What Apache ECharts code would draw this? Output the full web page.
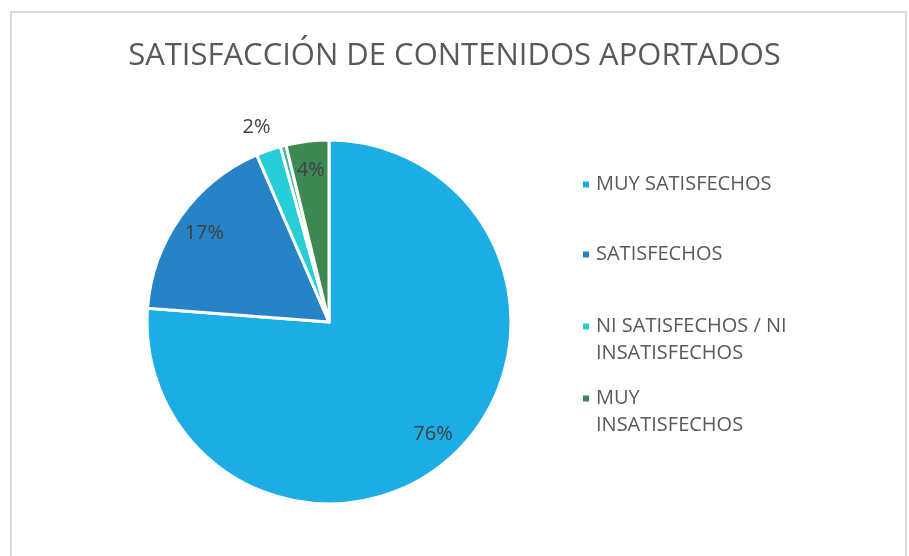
<!DOCTYPE html>
<html>
<head>
<meta charset="utf-8">
<script src="https://cdn.jsdelivr.net/npm/echarts@6/dist/echarts.min.js"></script>
<style>
  html, body { margin: 0; padding: 0; background: #fff; }
  #frame { position: absolute; left: 10px; top: 11px; width: 893px; height: 600px; border: 2px solid #d9d9d9; }
  #main { position: absolute; left: 0; top: 0; width: 909px; height: 556px; }
</style>
</head>
<body>
<div id="frame"></div>
<div id="main"></div>
<script>
var chart = echarts.init(document.getElementById('main'));

// datos
var categories = ['MUY SATISFECHOS', 'SATISFECHOS', 'NI SATISFECHOS / NI INSATISFECHOS', 'INSATISFECHOS', 'MUY INSATISFECHOS'];
var values = [76.2, 17.3, 2.2, 0.5, 3.8];
var colors = ['#1CADE4', '#2683C6', '#27CED7', '#42BA97', '#3E8853'];
var legendNames = ['MUY SATISFECHOS', 'SATISFECHOS', 'NI SATISFECHOS / NI INSATISFECHOS', 'MUY INSATISFECHOS'];
var legendTops = [166, 236, 281, 353];

var font = 'Open Sans';
var center = [329, 322];

var pieData = categories.map(function (c, i) {
  return { name: c, value: values[i], itemStyle: { color: colors[i] } };
});

// capa transparente solo para las etiquetas (posicion tipo Excel)
var labelData = categories.map(function (c, i) {
  var item = { name: c, value: values[i] };
  if (i === 2) {
    item.label = { position: 'outside', distanceToLabelLine: -10 };
    item.labelLine = { show: false, length: 24, length2: 0 };
  }
  if (i === 3) {
    item.label = { show: false };
  }
  return item;
});

var legends = legendNames.map(function (n, i) {
  return {
    orient: 'vertical',
    left: 576,
    top: legendTops[i],
    icon: 'rect',
    itemWidth: 8,
    itemHeight: 8,
    selectedMode: false,
    data: [n],
    formatter: function (name) {
      // linea vacia arriba para que el icono quede junto a la primera linea
      if (name === 'NI SATISFECHOS / NI INSATISFECHOS') return ' \nNI SATISFECHOS / NI\nINSATISFECHOS';
      if (name === 'MUY INSATISFECHOS') return ' \nMUY\nINSATISFECHOS';
      return name;
    },
    textStyle: {
      fontFamily: font,
      fontSize: 20,
      color: '#595959',
      lineHeight: 27,
      padding: [0, 0, 0, 1]
    }
  };
});

var option = {
  animation: false,
  title: {
    text: 'SATISFACCIÓN DE CONTENIDOS APORTADOS',
    left: 'center',
    top: 36,
    textStyle: {
      fontFamily: font,
      fontSize: 31,
      fontWeight: 'normal',
      color: '#595959'
    }
  },
  legend: legends,
  series: [
    {
      name: 'Satisfaccion',
      type: 'pie',
      center: center,
      radius: 182,
      startAngle: 90,
      clockwise: true,
      avoidLabelOverlap: false,
      label: { show: false },
      labelLine: { show: false },
      itemStyle: { borderColor: '#fff', borderWidth: 3 },
      emphasis: { scale: false },
      data: pieData
    },
    {
      name: 'Etiquetas',
      type: 'pie',
      center: center,
      radius: [118, 182],
      startAngle: 90,
      clockwise: true,
      silent: true,
      avoidLabelOverlap: false,
      itemStyle: { color: 'rgba(0,0,0,0)', borderWidth: 0 },
      label: {
        show: true,
        position: 'inside',
        formatter: function (p) { return Math.round(p.value) + '%'; },
        fontFamily: font,
        fontSize: 20,
        color: '#404040'
      },
      labelLine: { show: false },
      emphasis: { disabled: true },
      data: labelData
    }
  ]
};

chart.setOption(option);
</script>
</body>
</html>
